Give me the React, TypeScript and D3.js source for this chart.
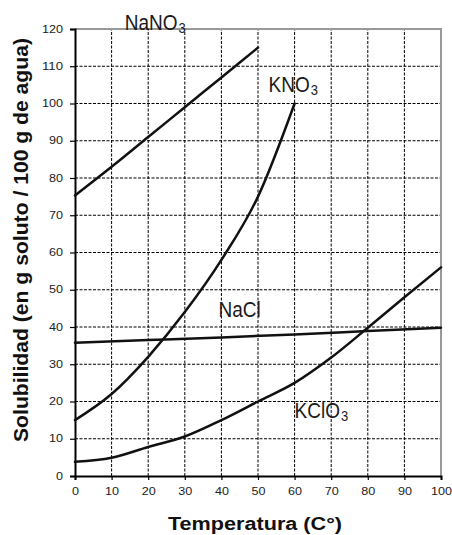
import { useRef, useEffect } from 'react'
import * as d3 from 'd3'

// Solubility curves, g solute / 100 g water vs temperature (°C)
const naNO3 = [
  { t: 0, s: 75.3 }, { t: 10, s: 83 }, { t: 20, s: 91 }, { t: 30, s: 99 },
  { t: 40, s: 107 }, { t: 50, s: 115 },
]
const kNO3 = [
  { t: 0, s: 15 }, { t: 10, s: 22 }, { t: 20, s: 32 }, { t: 30, s: 44 },
  { t: 40, s: 58 }, { t: 50, s: 75 }, { t: 60, s: 100 },
]
const naCl = [
  { t: 0, s: 35.8 }, { t: 20, s: 36.5 }, { t: 40, s: 37.2 }, { t: 60, s: 38 },
  { t: 80, s: 38.9 }, { t: 100, s: 39.8 },
]
const kClO3 = [
  { t: 0, s: 3.8 }, { t: 10, s: 4.9 }, { t: 20, s: 7.8 }, { t: 30, s: 10.6 },
  { t: 40, s: 15 }, { t: 50, s: 20 }, { t: 60, s: 25 }, { t: 70, s: 31.8 },
  { t: 80, s: 39.8 }, { t: 90, s: 48 }, { t: 100, s: 56 },
]
const xTicks = [0, 10, 20, 30, 40, 50, 60, 70, 80, 90, 100]
const yTicks = [0, 10, 20, 30, 40, 50, 60, 70, 80, 90, 100, 110, 120]

const series = [naNO3, kNO3, naCl, kClO3]
const labels = [
  { name: 'NaNO', sub: '3', t: 13.6, s: 119.8 },
  { name: 'KNO', sub: '3', t: 52.9, s: 103 },
  { name: 'NaCl', sub: '', t: 39.2, s: 42.7 },
  { name: 'KClO', sub: '3', t: 60, s: 15.5 },
]

const W = 452
const H = 535
const margin = { left: 75, right: 11, top: 29, bottom: 59 }
const FONT = 'Arial, Liberation Sans, sans-serif'

function App() {
  const svgRef = useRef<SVGSVGElement>(null)

  useEffect(() => {
    if (!svgRef.current) return
    const svg = d3.select(svgRef.current)
    svg.selectAll('*').remove()

    const innerW = W - margin.left - margin.right
    const innerH = H - margin.top - margin.bottom

    const x = d3.scaleLinear().domain([0, 100]).range([margin.left, margin.left + innerW])
    const y = d3.scaleLinear().domain([0, 120]).range([margin.top + innerH, margin.top])

    // dashed grid
    const grid = svg.append('g')
    grid.selectAll('line.v')
      .data(xTicks.slice(1, -1))
      .join('line')
      .attr('x1', d => x(d)).attr('x2', d => x(d))
      .attr('y1', y(0)).attr('y2', y(120))
      .attr('stroke', '#000').attr('stroke-width', 1)
      .attr('stroke-dasharray', '3,1.5')
    grid.selectAll('line.h')
      .data(yTicks.slice(1, -1))
      .join('line')
      .attr('x1', x(0)).attr('x2', x(100))
      .attr('y1', d => y(d)).attr('y2', d => y(d))
      .attr('stroke', '#000').attr('stroke-width', 1)
      .attr('stroke-dasharray', '3,1.5')

    // top and right border (gray)
    svg.append('path')
      .attr('d', `M${x(0)},${y(120)}H${x(100)}V${y(0)}`)
      .attr('fill', 'none')
      .attr('stroke', '#999').attr('stroke-width', 2)

    // axes
    const xAxis = svg.append('g')
      .attr('transform', `translate(0,${y(0)})`)
      .call(d3.axisBottom(x).tickValues(xTicks).tickSize(4).tickPadding(8))
    const yAxis = svg.append('g')
      .attr('transform', `translate(${x(0)},0)`)
      .call(d3.axisLeft(y).tickValues(yTicks).tickSize(5).tickPadding(7))
    for (const ax of [xAxis, yAxis]) {
      ax.select('.domain').attr('stroke', '#000').attr('stroke-width', 2)
      ax.selectAll('.tick line').attr('stroke', '#000').attr('stroke-width', 1.2)
      ax.selectAll<SVGTextElement, number>('.tick text')
        .attr('font-family', FONT)
        .attr('font-size', 10)
        .attr('fill', '#222')
        .attr('textLength', d => String(d).length * 7)
        .attr('lengthAdjust', 'spacingAndGlyphs')
    }

    // curves
    const line = d3.line<{ t: number; s: number }>()
      .x(d => x(d.t))
      .y(d => y(d.s))
      .curve(d3.curveMonotoneX)
    svg.append('g')
      .selectAll('path')
      .data(series)
      .join('path')
      .attr('d', d => line(d))
      .attr('fill', 'none')
      .attr('stroke', '#111')
      .attr('stroke-width', 2.5)
      .attr('stroke-linecap', 'round')

    // curve labels (slightly tall glyphs as in the original)
    const lab = svg.append('g')
      .attr('font-family', FONT)
      .attr('font-size', 19)
      .attr('fill', '#1a1a1a')
    labels.forEach(l => {
      const txt = lab.append('text')
        .attr('transform', `translate(${x(l.t)},${y(l.s)}) scale(1,1.13)`)
      txt.append('tspan').text(l.name)
      if (l.sub) {
        txt.append('tspan').attr('font-size', 13).attr('dx', 1).attr('dy', 2.5).text(l.sub)
      }
    })

    // axis titles
    svg.append('text')
      .attr('x', 255)
      .attr('y', 530)
      .attr('text-anchor', 'middle')
      .attr('font-family', FONT)
      .attr('font-weight', 'bold')
      .attr('font-size', 18)
      .attr('fill', '#111')
      .attr('textLength', 174)
      .attr('lengthAdjust', 'spacingAndGlyphs')
      .text('Temperatura (C°)')

    svg.append('text')
      .attr('transform', `translate(28,240) rotate(-90)`)
      .attr('text-anchor', 'middle')
      .attr('font-family', FONT)
      .attr('font-weight', 'bold')
      .attr('font-size', 20)
      .attr('fill', '#111')
      .attr('textLength', 404)
      .attr('lengthAdjust', 'spacingAndGlyphs')
      .text('Solubilidad  (en g soluto / 100 g de agua)')
  }, [])

  return (
    <svg
      ref={svgRef}
      width={W}
      height={H}
      style={{ position: 'absolute', left: 0, top: 0, background: '#fff' }}
    />
  )
}

export default App
